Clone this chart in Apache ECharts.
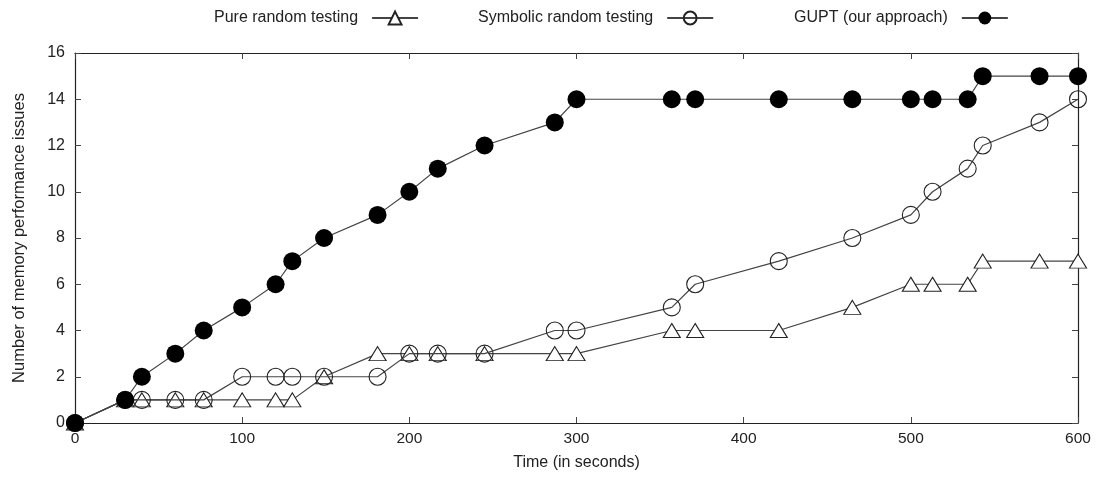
<!DOCTYPE html>
<html>
<head>
<meta charset="utf-8">
<script src="https://cdn.jsdelivr.net/npm/echarts@6/dist/echarts.min.js"></script>
<style>
html,body{margin:0;padding:0;background:#fff;}
#chart{width:1098px;height:477px;}
</style>
</head>
<body>
<div id="chart"></div>
<script>
const times = [0, 30, 40, 60, 77, 100, 120, 130, 149, 181, 200, 217, 245, 287, 300, 357, 371, 421, 465, 500, 513, 534, 543, 577, 600];
const pureRandom = [0, 1, 1, 1, 1, 1, 1, 1, 2, 3, 3, 3, 3, 3, 3, 4, 4, 4, 5, 6, 6, 6, 7, 7, 7];
const symbolicRandom = [0, 1, 1, 1, 1, 2, 2, 2, 2, 2, 3, 3, 3, 4, 4, 5, 6, 7, 8, 9, 10, 11, 12, 13, 14];
const gupt = [0, 1, 2, 3, 4, 5, 6, 7, 8, 9, 10, 11, 12, 13, 14, 14, 14, 14, 14, 14, 14, 14, 15, 15, 15];
const seriesNames = ['Pure random testing', 'Symbolic random testing', 'GUPT (our approach)'];
const xTicks = [0, 100, 200, 300, 400, 500, 600];
const yTicks = [0, 2, 4, 6, 8, 10, 12, 14, 16];

const FONT = 'Liberation Sans';
const pair = (ys) => times.map((t, i) => [t, ys[i]]);
const lineColor = '#444';

function legendAt(left, name) {
  return {
    left: left, top: 5, align: 'right', orient: 'horizontal',
    data: [name], itemWidth: 46, itemHeight: 16, selectedMode: false,
    textStyle: {fontFamily: FONT, fontSize: 16, color: '#222', padding: [0, 9, 0, 0]}
  };
}

const chart = echarts.init(document.getElementById('chart'), null, {renderer: 'canvas'});
const axisCommon = {
  axisLine: {show: true, onZero: false, lineStyle: {color: '#222', width: 1.2}},
  axisTick: {show: true, inside: true, length: 6, lineStyle: {color: '#444'}},
  splitLine: {show: false}
};
chart.setOption({
  animation: false,
  backgroundColor: '#fff',
  legend: [legendAt(209, seriesNames[0]), legendAt(473, seriesNames[1]), legendAt(789, seriesNames[2])],
  grid: {left: 75, right: 20, top: 53, bottom: 54, containLabel: false},
  xAxis: [
    Object.assign({
      type: 'value', min: xTicks[0], max: xTicks[xTicks.length - 1], interval: 100, position: 'bottom',
      name: 'Time (in seconds)', nameLocation: 'middle', nameGap: 32,
      nameTextStyle: {fontFamily: FONT, fontSize: 16, color: '#222'},
      axisLabel: {fontFamily: FONT, fontSize: 15.5, color: '#222', margin: 8}
    }, axisCommon),
    Object.assign({
      type: 'value', min: xTicks[0], max: xTicks[xTicks.length - 1], interval: 100, position: 'top',
      axisLabel: {show: false}
    }, axisCommon)
  ],
  yAxis: [
    Object.assign({
      type: 'value', min: yTicks[0], max: yTicks[yTicks.length - 1], interval: 2, position: 'left',
      name: 'Number of memory performance issues', nameLocation: 'middle', nameGap: 47,
      nameTextStyle: {fontFamily: FONT, fontSize: 16.5, color: '#222'},
      axisLabel: {fontFamily: FONT, fontSize: 16, color: '#222', margin: 10}
    }, axisCommon),
    Object.assign({
      type: 'value', min: yTicks[0], max: yTicks[yTicks.length - 1], interval: 2, position: 'right',
      axisLabel: {show: false}
    }, axisCommon)
  ],
  series: [
    {
      name: seriesNames[0], type: 'line', data: pair(pureRandom),
      symbol: 'triangle', symbolSize: [17, 14], showAllSymbol: true, z: 2,
      lineStyle: {color: lineColor, width: 1.2},
      itemStyle: {color: '#fff', borderColor: '#222', borderWidth: 1.1}
    },
    {
      name: seriesNames[1], type: 'line', data: pair(symbolicRandom),
      symbol: 'circle', symbolSize: 17, showAllSymbol: true, z: 3,
      lineStyle: {color: lineColor, width: 1.2},
      itemStyle: {color: 'rgba(255,255,255,0)', borderColor: '#222', borderWidth: 1.1}
    },
    {
      name: seriesNames[2], type: 'line', data: pair(gupt),
      symbol: 'circle', symbolSize: 18, showAllSymbol: true, z: 4,
      lineStyle: {color: lineColor, width: 1.2},
      itemStyle: {color: '#000', borderColor: '#000', borderWidth: 0}
    }
  ]
});
</script>
</body>
</html>
